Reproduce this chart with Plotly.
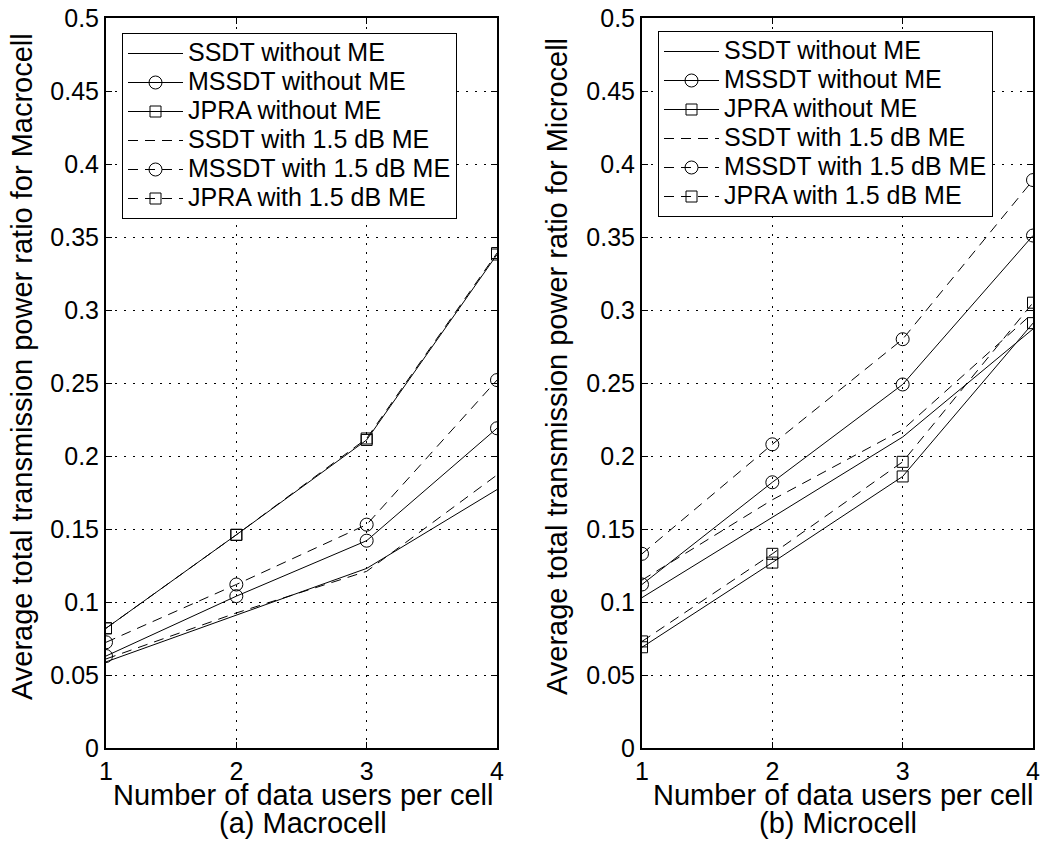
import plotly.graph_objects as go

users = [1, 2, 3, 4]
series_names = ["SSDT without ME", "MSSDT without ME", "JPRA without ME",
                "SSDT with 1.5 dB ME", "MSSDT with 1.5 dB ME", "JPRA with 1.5 dB ME"]

# Macrocell values
macro_ssdt = [0.059, 0.091, 0.123, 0.177]
macro_mssdt = [0.063, 0.104, 0.142, 0.219]
macro_jpra = [0.082, 0.146, 0.211, 0.338]
macro_ssdt_me = [0.061, 0.0925, 0.121, 0.187]
macro_mssdt_me = [0.0724, 0.112, 0.153, 0.252]
macro_jpra_me = [0.082, 0.146, 0.212, 0.339]

# Microcell values
micro_ssdt = [0.103, 0.158, 0.213, 0.287]
micro_mssdt = [0.112, 0.182, 0.249, 0.351]
micro_jpra = [0.069, 0.127, 0.186, 0.291]
micro_ssdt_me = [0.115, 0.170, 0.218, 0.298]
micro_mssdt_me = [0.133, 0.208, 0.280, 0.389]
micro_jpra_me = [0.073, 0.133, 0.196, 0.305]

y_ticks = [0, 0.05, 0.1, 0.15, 0.2, 0.25, 0.3, 0.35, 0.4, 0.45, 0.5]
y_ticklabels = ["0", "0.05", "0.1", "0.15", "0.2", "0.25", "0.3", "0.35", "0.4", "0.45", "0.5"]

FONT = "Liberation Sans, Arial, sans-serif"
DASH = "10px,7px"
styles = [
    dict(dash="solid", symbol=None),
    dict(dash="solid", symbol="circle-open"),
    dict(dash="solid", symbol="square-open"),
    dict(dash=DASH, symbol=None),
    dict(dash=DASH, symbol="circle-open"),
    dict(dash=DASH, symbol="square-open"),
]
sizes = {"circle-open": 13, "square-open": 11}

fig = go.Figure()

panels = [
    ("x", "y", "legend", [macro_ssdt, macro_mssdt, macro_jpra, macro_ssdt_me, macro_mssdt_me, macro_jpra_me]),
    ("x2", "y2", "legend2", [micro_ssdt, micro_mssdt, micro_jpra, micro_ssdt_me, micro_mssdt_me, micro_jpra_me]),
]

for xa, ya, leg, data in panels:
    for name, vals, st in zip(series_names, data, styles):
        label = '<span style="font-size:25px">' + name + '</span>'
        kw = dict(x=users, y=vals, name=label, xaxis=xa, yaxis=ya, legend=leg,
                  line=dict(color="black", width=1, dash=st["dash"]))
        if st["symbol"]:
            kw["mode"] = "lines+markers"
            kw["marker"] = dict(symbol=st["symbol"], size=sizes[st["symbol"]], color="black",
                                line=dict(color="black", width=1))
        else:
            kw["mode"] = "lines"
        fig.add_trace(go.Scatter(**kw))

W, H = 1048, 843
y_dom = [1 - 748 / H, 1 - 18 / H]

axis_common = dict(
    showline=True, linecolor="black", linewidth=2, mirror="ticks",
    ticks="inside", ticklen=6, tickcolor="black", tickwidth=1,
    showgrid=True, gridcolor="black", gridwidth=1, griddash="2px,7px",
    zeroline=False, automargin=False,
    tickfont=dict(family=FONT, size=25, color="black"),
)

xax = dict(axis_common, range=[1, 4], tickvals=users, ticktext=[str(u) for u in users])
yax = dict(axis_common, range=[0, 0.5], tickvals=y_ticks, ticktext=y_ticklabels)

leg_common = dict(xanchor="left", yanchor="top", bgcolor="white", bordercolor="black",
                  borderwidth=1, font=dict(family=FONT, size=20, color="black"),
                  itemwidth=55, tracegroupgap=0)

fig.update_layout(
    width=W, height=H,
    margin=dict(l=0, r=0, t=0, b=0),
    paper_bgcolor="white", plot_bgcolor="white",
    font=dict(family=FONT, color="black"),
    xaxis=dict(xax, domain=[106 / W, 497 / W], anchor="y"),
    yaxis=dict(yax, domain=y_dom, anchor="x"),
    xaxis2=dict(xax, domain=[642 / W, 1033 / W], anchor="y2"),
    yaxis2=dict(yax, domain=y_dom, anchor="x2"),
    legend=dict(leg_common, x=122 / W, y=1 - 33 / H),
    legend2=dict(leg_common, x=658 / W, y=1 - 31 / H),
    showlegend=True,
)

annos = [
    dict(text="Average total transmission power ratio for Macrocell", x=22 / W, y=1 - 367 / H,
         textangle=-90),
    dict(text="Average total transmission power ratio for Microcell", x=557 / W, y=1 - 367 / H,
         textangle=-90),
    dict(text="Number of data users per cell", x=303 / W, y=1 - 795 / H),
    dict(text="Number of data users per cell", x=843 / W, y=1 - 795 / H),
    dict(text="(a) Macrocell", x=303 / W, y=1 - 823 / H),
    dict(text="(b) Microcell", x=838 / W, y=1 - 823 / H),
]
for a in annos:
    fig.add_annotation(xref="paper", yref="paper", showarrow=False, xanchor="center", yanchor="middle",
                       font=dict(family=FONT, size=29, color="black"), **a)

fig.write_html("out.html")
